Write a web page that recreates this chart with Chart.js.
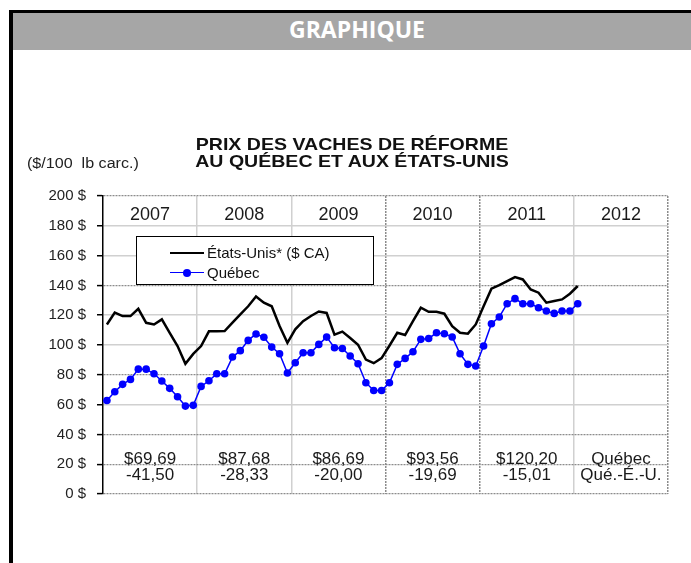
<!DOCTYPE html>
<html lang="fr">
<head>
<meta charset="utf-8">
<title>Prix des vaches de réforme</title>
<script src="https://cdn.jsdelivr.net/npm/chart.js@4.4.1/dist/chart.umd.min.js"></script>
<style>
  body { margin: 0; width: 691px; height: 563px; background: #fff; overflow: hidden; position: relative; font-family: "Liberation Sans", Arial, sans-serif; }
  #chart { position: absolute; left: 0; top: 0; }
  .frame { position: absolute; left: 9px; top: 10px; width: 700px; height: 600px; border-left: 4px solid #000; border-top: 3px solid #000; pointer-events: none; }
  .header { position: absolute; left: 13px; top: 13px; right: 0; height: 37px; background: #a6a6a6; }
  .header span { position: absolute; left: 244px; width: 200px; top: 0; line-height: 37px; text-align: center; color: #fff; font: 700 23px "Open Sans", sans-serif; }
  .title { position: absolute; left: 152px; width: 400px; top: 136px; text-align: center; font-weight: bold; font-size: 17px; line-height: 17px; color: #111; transform: scaleX(1.15); }
  .unit { position: absolute; left: 27px; top: 155px; font-size: 14px; color: #222; transform: scaleX(1.15); transform-origin: left center; white-space: pre; }
  .legend { position: absolute; left: 136px; top: 236px; width: 236px; height: 47px; border: 1.5px solid #000; background: #fff; font-size: 15px; color: #111; }
  .row { position: absolute; left: 33px; height: 18px; line-height: 18px; white-space: nowrap; }
  .sample { display: inline-block; position: relative; width: 34px; height: 18px; vertical-align: top; margin-right: 3px; }
  .sample i { position: absolute; left: 0; right: 0; top: 8px; }
  .sample b { position: absolute; left: 13px; top: 5px; width: 8px; height: 8px; border-radius: 50%; background: #0000ff; }
</style>
</head>
<body>
<canvas id="chart" width="691" height="563"></canvas>
<div class="frame"></div>
<div class="header"><span>GRAPHIQUE</span></div>
<div class="title">PRIX DES VACHES DE RÉFORME<br>AU QUÉBEC ET AUX ÉTATS-UNIS</div>
<div class="unit">($/100  lb carc.)</div>
<div class="legend">
  <div class="row" style="top:7px"><span class="sample"><i style="border-top:2.5px solid #000"></i></span>États-Unis* ($ CA)</div>
  <div class="row" style="top:27px"><span class="sample"><i style="border-top:1.5px solid #0000ff"></i><b></b></span>Québec</div>
</div>
<script>
// Years shown in the table inside the chart
const years = ['2007', '2008', '2009', '2010', '2011', '2012'];
const quebecAvg = ['$69,69', '$87,68', '$86,69', '$93,56', '$120,20', 'Québec'];
const ecartUS = ['-41,50', '-28,33', '-20,00', '-19,69', '-15,01', 'Qué.-É.-U.'];

// Monthly prices, Jan 2007 to Jan 2012
const etatsUnis = [
  113.8, 121.7, 119.4, 119.4, 124.3, 114.9, 113.8, 117.2, 108.2, 99.3, 87.4, 94.0,
  99.3, 109.2, 109.2, 109.4, 115.0, 120.5, 126.0, 132.6, 128.4, 126.0, 112.7, 101.5,
  110.5, 116.0, 119.5, 122.5, 121.5, 107.0, 109.0, 104.7, 100.2, 90.2, 87.8, 91.2,
  99.5, 108.2, 106.7, 116.0, 125.0, 122.3, 122.3, 121.0, 112.7, 108.2, 107.6, 113.8,
  126.0, 137.8, 140.2, 142.9, 145.6, 144.0, 137.3, 135.1, 128.4, 129.5, 130.6, 134.4,
  139.6
];
const quebec = [
  62.8, 68.6, 73.6, 76.9, 83.8, 83.8, 80.7, 75.8, 70.9, 65.3, 59.0, 59.5,
  72.2, 76.0, 80.7, 80.7, 91.9, 96.2, 103.1, 107.4, 105.2, 98.6, 94.1, 81.2,
  88.1, 94.8, 94.8, 100.4, 105.3, 98.2, 97.7, 92.6, 87.4, 74.7, 69.5, 69.5,
  74.7, 87.0, 91.0, 95.5, 103.8, 104.4, 108.2, 107.6, 105.4, 94.1, 87.0, 85.9,
  99.3, 114.3, 118.8, 127.7, 131.1, 127.7, 127.7, 125.0, 122.8, 121.2, 122.8, 122.8,
  127.7
];

const yTicks = [0, 20, 40, 60, 80, 100, 120, 140, 160, 180, 200];
const dottedY = [0, 20, 40, 80, 140, 200];
const dottedX = [36, 48];

const months = [];
years.forEach(yr => {
  for (let m = 1; m <= 12; m++) months.push(yr + '-' + String(m).padStart(2, '0'));
});

// year labels and table values drawn inside the plot
const tablePlugin = {
  id: 'yearTable',
  afterDatasetsDraw(chart) {
    const { ctx, scales: { x, y } } = chart;
    ctx.save();
    ctx.fillStyle = '#1a1a1a';
    ctx.textAlign = 'center';
    ctx.textBaseline = 'middle';
    years.forEach((yr, i) => {
      const cx = (x.getPixelForValue(i * 12) + x.getPixelForValue(i * 12 + 11)) / 2;
      ctx.font = '18px "Liberation Sans", Arial, sans-serif';
      ctx.fillText(yr, cx, y.getPixelForValue(187.5));
      ctx.font = '17px "Liberation Sans", Arial, sans-serif';
      ctx.fillText(quebecAvg[i], cx, y.getPixelForValue(23.2));
      ctx.fillText(ecartUS[i], cx, y.getPixelForValue(12.5));
    });
    ctx.restore();
  }
};

new Chart(document.getElementById('chart'), {
  type: 'line',
  data: {
    labels: months,
    datasets: [{
      label: 'États-Unis* ($ CA)',
      data: etatsUnis,
      borderColor: '#000',
      borderWidth: 2.5,
      pointRadius: 0,
      tension: 0
    }, {
      label: 'Québec',
      data: quebec,
      borderColor: '#0000ff',
      backgroundColor: '#0000ff',
      borderWidth: 1.5,
      pointRadius: 3.8,
      pointBorderWidth: 0,
      pointBackgroundColor: '#0000ff',
      tension: 0
    }]
  },
  options: {
    responsive: false,
    animation: false,
    layout: { padding: { top: 196, right: 23, bottom: 69, left: 0 } },
    plugins: { legend: { display: false }, tooltip: { enabled: false } },
    scales: {
      x: {
        offset: true,
        ticks: { display: false, autoSkip: false },
        border: {
          display: false,
          dash: c => (c.index === undefined || dottedX.includes(c.index)) ? [2, 1] : []
        },
        grid: {
          offset: true,
          drawTicks: false,
          lineWidth: 1.5,
          color: c => {
            if (c.index === undefined) return '#8c8c8c';
            if (c.index === 0 || c.index % 12 !== 0) return 'transparent';
            return dottedX.includes(c.index) ? '#8c8c8c' : '#d0d0d0';
          }
        }
      },
      y: {
        min: 0,
        max: 200,
        afterFit: s => { s.width = 103; },
        afterBuildTicks: s => { s.ticks = yTicks.map(v => ({ value: v })); },
        ticks: {
          padding: 11,
          color: '#222',
          font: { family: '"Liberation Sans", Arial, sans-serif', size: 15 },
          callback: v => v + ' $'
        },
        border: {
          display: true,
          color: '#000',
          width: 1.5,
          dash: c => (c.tick && dottedY.includes(c.tick.value)) ? [2, 1] : []
        },
        grid: {
          tickLength: 6,
          tickColor: '#000',
          tickWidth: 1.5,
          lineWidth: c => (c.tick && dottedY.includes(c.tick.value)) ? 1.2 : 1.5,
          color: c => (c.tick && dottedY.includes(c.tick.value)) ? '#8c8c8c' : '#d0d0d0'
        }
      }
    }
  },
  plugins: [tablePlugin]
});
</script>
</body>
</html>
